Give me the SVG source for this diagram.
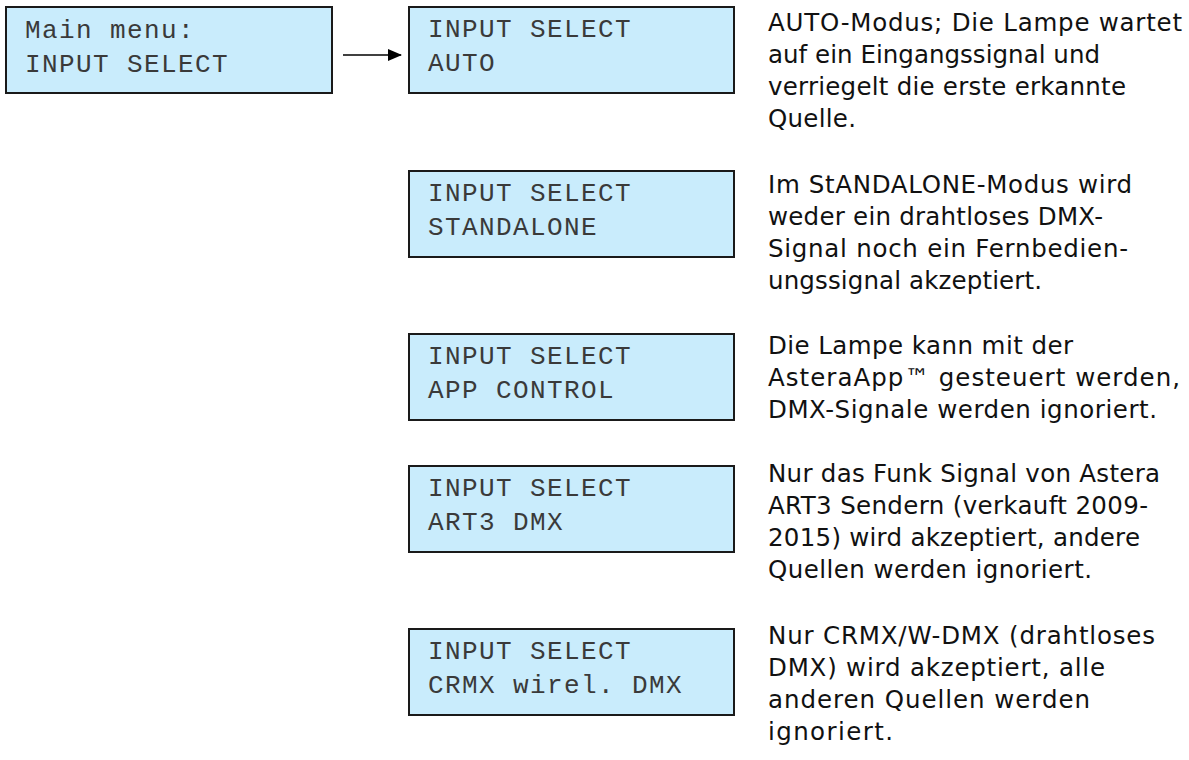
<svg xmlns="http://www.w3.org/2000/svg" width="1189" height="760" viewBox="0 0 1189 760">
<defs>
<style>
.lcd{fill:#c9ecfc;stroke:#1a1a1a;stroke-width:2}
.lt{font-family:"Liberation Mono","DejaVu Sans Mono",monospace;font-size:26px;letter-spacing:1.4px;fill:#3a3a3a}
.dt{font-family:"DejaVu Sans","Noto Sans",sans-serif;font-size:24.5px;fill:#111}
.conn{stroke:#000;stroke-width:1.6;fill:none}
</style>
<marker id="ah" markerWidth="14" markerHeight="12" refX="13" refY="6" orient="auto" markerUnits="userSpaceOnUse">
<path d="M0,0 L14,6 L0,12 Z" fill="#000"/>
</marker>
</defs>
<rect width="1189" height="760" fill="#fff"/>
<g id="connectors">
<line class="conn" x1="343" y1="55" x2="401" y2="55" marker-end="url(#ah)"/>
</g>
<g id="main">
<rect class="lcd" x="6" y="7" width="326" height="86"/>
<text class="lt" x="25" y="38">Main menu:</text>
<text class="lt" x="25" y="72">INPUT SELECT</text>
</g>
<g id="auto">
<rect class="lcd" x="409" y="7" width="325" height="86"/>
<text class="lt" x="428" y="37">INPUT SELECT</text>
<text class="lt" x="428" y="71">AUTO</text>
</g>
<g id="standalone">
<rect class="lcd" x="409" y="171" width="325" height="86"/>
<text class="lt" x="428" y="201">INPUT SELECT</text>
<text class="lt" x="428" y="235">STANDALONE</text>
</g>
<g id="app">
<rect class="lcd" x="409" y="334" width="325" height="86"/>
<text class="lt" x="428" y="364">INPUT SELECT</text>
<text class="lt" x="428" y="398">APP CONTROL</text>
</g>
<g id="art3">
<rect class="lcd" x="409" y="466" width="325" height="86"/>
<text class="lt" x="428" y="496">INPUT SELECT</text>
<text class="lt" x="428" y="530">ART3 DMX</text>
</g>
<g id="crmx">
<rect class="lcd" x="409" y="629" width="325" height="86"/>
<text class="lt" x="428" y="659">INPUT SELECT</text>
<text class="lt" x="428" y="693">CRMX wirel. DMX</text>
</g>
<g id="desc-auto">
<text class="dt" x="768" y="31" textLength="414">AUTO-Modus; Die Lampe wartet</text>
<text class="dt" x="768" y="63" textLength="332">auf ein Eingangssignal und</text>
<text class="dt" x="768" y="95" textLength="358">verriegelt die erste erkannte</text>
<text class="dt" x="768" y="127" textLength="88">Quelle.</text>
</g>
<g id="desc-standalone">
<text class="dt" x="768" y="193" textLength="364">Im StANDALONE-Modus wird</text>
<text class="dt" x="768" y="225" textLength="335">weder ein drahtloses DMX-</text>
<text class="dt" x="768" y="257" textLength="360">Signal noch ein Fernbedien-</text>
<text class="dt" x="768" y="289" textLength="274">ungssignal akzeptiert.</text>
</g>
<g id="desc-app">
<text class="dt" x="768" y="354" textLength="305">Die Lampe kann mit der</text>
<text class="dt" x="768" y="386" textLength="412">AsteraApp™ gesteuert werden,</text>
<text class="dt" x="768" y="418" textLength="389">DMX-Signale werden ignoriert.</text>
</g>
<g id="desc-art3">
<text class="dt" x="768" y="482" textLength="392">Nur das Funk Signal von Astera</text>
<text class="dt" x="768" y="514" textLength="380">ART3 Sendern (verkauft 2009-</text>
<text class="dt" x="768" y="546" textLength="372">2015) wird akzeptiert, andere</text>
<text class="dt" x="768" y="578" textLength="324">Quellen werden ignoriert.</text>
</g>
<g id="desc-crmx">
<text class="dt" x="768" y="644" textLength="387">Nur CRMX/W-DMX (drahtloses</text>
<text class="dt" x="768" y="676" textLength="337">DMX) wird akzeptiert, alle</text>
<text class="dt" x="768" y="708" textLength="322">anderen Quellen werden</text>
<text class="dt" x="768" y="740" textLength="125">ignoriert.</text>
</g>
</svg>
